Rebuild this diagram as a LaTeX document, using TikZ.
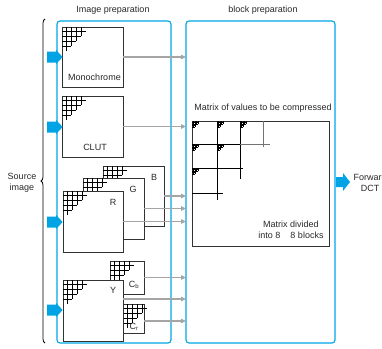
\documentclass[tikz,border=0pt]{standalone}
\usepackage{fontspec}
\setmainfont{Liberation Sans}
\usetikzlibrary{decorations.pathreplacing,arrows.meta}
\definecolor{jblue}{RGB}{0,164,228}
\definecolor{jgray}{RGB}{165,165,165}
\definecolor{jtext}{RGB}{40,40,40}
\definecolor{jedge}{RGB}{50,50,50}
\begin{document}
\begin{tikzpicture}[x=1pt,y=-1pt,
  every node/.style={font=\fontsize{9}{11}\selectfont,text=jtext,inner sep=0pt,outer sep=0pt},
  prepbox/.style={draw=jblue,line width=1.1pt,rounded corners=3pt,anchor=north west},
  imgbox/.style={draw=jedge,line width=0.9pt,fill=white,anchor=north west},
  grayarr/.style={draw=jgray,line width=1.7pt,-{Triangle[length=5pt,width=4.5pt]}},
  stairgrid/.pic={\foreach \p in {4,9,14,19}{\draw[line width=0.85pt,black] (\p,0)--(\p,28-\p) (0,\p)--(28-\p,\p);}},
  minigrid/.pic={\foreach \p in {1.4,2.9,4.4,5.9}{\draw[line width=0.5pt,black] (\p,0)--(\p,8.6-\p) (0,\p)--(8.6-\p,\p);}},
  bluearrow/.pic={\fill[jblue] (0,-5.5)--(9,-5.5)--(9,-7.2)--(15.6,0)--(9,7.2)--(9,5.5)--(0,5.5)--cycle;}
]
\useasboundingbox (0,0) rectangle (382,348);

% titles
\node (t1) at (113,10) {Image preparation};
\node (t2) at (263,10) {block preparation};

% blue boxes
\node[prepbox,minimum width=114pt,minimum height=322pt] (prep) at (57,21) {};
\node[prepbox,minimum width=149pt,minimum height=322pt] (block) at (186,21) {};

% brace and source
\draw[line width=0.8pt,decorate,decoration={brace,amplitude=4pt}] (45,343) -- (45,19);
\node[align=center] (src) at (22,183) {Source\\image};

% Monochrome
\node[imgbox,minimum width=61pt,minimum height=60pt] (mono) at (62,27) {};
\pic at (62,27) {stairgrid};
\node (monol) at (94.5,77) {Monochrome};

% CLUT
\node[imgbox,minimum width=61pt,minimum height=61pt] (clut) at (62,96) {};
\pic at (62,96) {stairgrid};
\node (clutl) at (95,147) {CLUT};

% RGB
\node[imgbox,minimum width=61pt,minimum height=60pt] (bbox) at (103,166) {};
\pic at (103,166) {stairgrid};
\node (bl) at (154,177) {B};
\node[imgbox,minimum width=61pt,minimum height=61pt] (gbox) at (83,178) {};
\pic at (83,178) {stairgrid};
\node (gl) at (133,189) {G};
\node[imgbox,minimum width=60pt,minimum height=61pt] (rbox) at (63,191) {};
\pic at (63,191) {stairgrid};
\node (rl) at (113,202) {R};

% YCbCr
\node[imgbox,minimum width=34pt,minimum height=33pt] (cbbox) at (110,261) {};
\pic at (110,261) {stairgrid};
\node (cbl) at (134,285) {C\textsubscript{b}};
\node[imgbox,minimum width=21pt,minimum height=29pt] (crbox) at (123,304) {};
\pic at (123,304) {stairgrid};
\node (crl) at (134,327) {C\textsubscript{r}};
\node[imgbox,minimum width=60pt,minimum height=61pt] (ybox) at (63,280) {};
\pic at (63,280) {stairgrid};
\node (yl) at (113,290) {Y};

% blue input arrows
\pic at (47,57) {bluearrow};
\pic at (47,127) {bluearrow};
\pic at (47,222) {bluearrow};
\pic at (47,310) {bluearrow};

% gray arrows
\draw[grayarr] (mono.east) -- (mono.east -| block.west);
\draw[grayarr] (clut.east) -- (clut.east -| block.west);
\draw[grayarr] (bbox.east) -- (bbox.east -| block.west);
\draw[grayarr] (gbox.east) -- (gbox.east -| block.west);
\draw[grayarr] (rbox.east) -- (rbox.east -| block.west);
\draw[grayarr] (cbbox.east) -- (cbbox.east -| block.west);
\coordinate (yout) at (123,299);
\draw[grayarr] (yout) -- (yout -| block.west);
\coordinate (crout) at (144,321);
\draw[grayarr] (crout) -- (crout -| block.west);

% matrix
\node (mtitle) at (263,108) {Matrix of values to be compressed};
\node[draw=jedge,line width=0.9pt,anchor=north west,minimum width=137pt,minimum height=125pt] (mat) at (192,121) {};
\draw[line width=1pt,black] (217,121)--(217,200) (240,121)--(240,179) (192,144)--(240,144) (192,168)--(243,168) (192,193)--(223,193);
\draw[line width=1pt,black!55] (263,121)--(263,147) (240,144)--(270,144);
\foreach \cx/\cy in {192/121,217/121,240/121,192/144,217/144,192/168}{\pic at (\cx,\cy) {minigrid};}
\node[align=center] (mdiv) at (291,230) {Matrix divided\\into 8\hspace{10pt}8 blocks};

% forward DCT
\fill[jblue] (336,177)--(343,177)--(343,173)--(350,182)--(343,191)--(343,187)--(336,187)--cycle;
\node[align=center] (fdct) at (370,183) {Forward\\DCT};
\end{tikzpicture}
\end{document}
